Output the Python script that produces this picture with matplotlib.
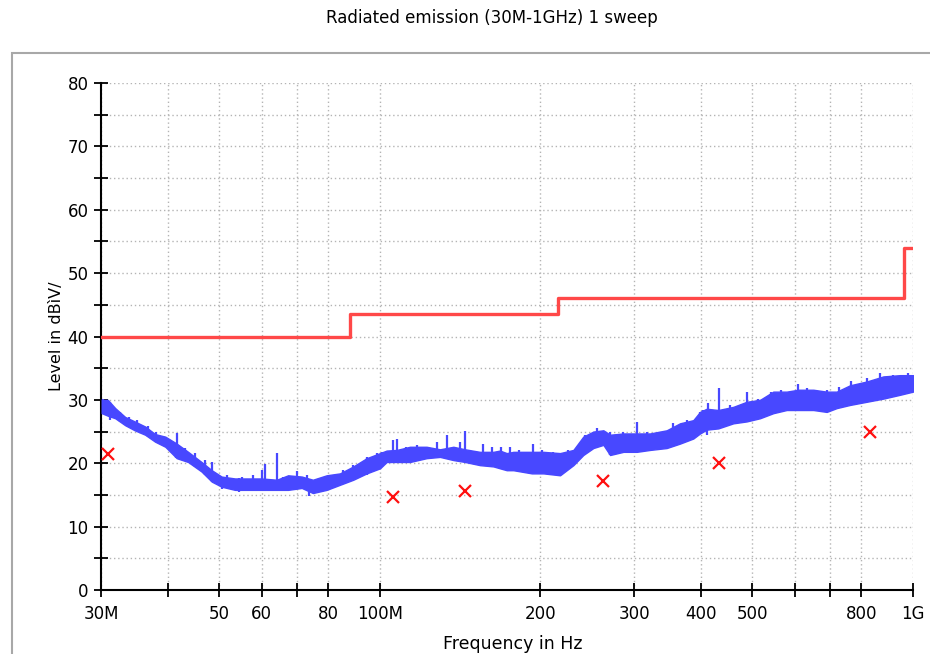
import numpy as np
import matplotlib
matplotlib.use("Agg")
import matplotlib.pyplot as plt
from matplotlib.patches import Rectangle

# sweep envelope (MHz, dBuV)
freq = [30.1, 30.9, 31.9, 33.3, 34.7, 36.3, 37.9, 39.6, 41.6, 43.7, 46.3, 48.4,
        50.5, 53.5, 56.6, 60.0, 64.1, 67.3, 71.4, 74.9, 79.5, 84.2, 89.2, 94.5,
        100.1, 103.0, 107.6, 113.9, 122.4, 129.7, 137.4, 144.5, 154.1, 163.3,
        168.0, 173.0, 178.0, 192.8, 202.7, 217.8, 230.7, 240.8, 251.5, 262.6,
        270.3, 286.3, 303.3, 321.2, 345.2, 365.6, 387.2, 398.6, 410.3, 431.4,
        460.3, 487.7, 516.5, 547.0, 579.5, 609.3, 650.3, 688.9, 719.3, 761.8,
        818.9, 879.8, 945.4, 1000.0]
upper = [30.0, 30.0, 28.7, 27.3, 26.6, 25.8, 24.6, 24.2, 23.1, 21.8, 20.2, 18.9,
         17.9, 17.6, 17.6, 17.6, 17.4, 18.1, 17.9, 17.4, 18.1, 18.4, 19.5, 20.8,
         21.6, 22.0, 22.1, 22.6, 22.6, 22.2, 22.6, 22.2, 21.8, 21.8,
         22.0, 21.6, 21.8, 21.8, 21.8, 21.6, 22.1, 24.2, 25.0, 25.2,
         24.5, 24.7, 24.7, 24.7, 25.2, 26.3, 26.8, 28.1, 28.6, 28.4,
         28.9, 29.7, 30.0, 31.3, 31.3, 31.6, 31.6, 31.3, 31.3, 32.3,
         32.9, 33.7, 33.9, 33.9]
lower = [27.9, 27.5, 27.1, 26.0, 25.2, 24.5, 23.4, 22.6, 20.8, 20.2, 18.7, 17.1,
         16.3, 15.8, 15.8, 15.8, 15.8, 15.8, 16.1, 15.3, 15.8, 16.6, 17.4, 18.4,
         19.2, 20.2, 20.2, 20.2, 20.8, 21.0, 20.5, 20.2, 19.7, 19.5,
         19.2, 18.9, 18.9, 18.4, 18.4, 18.1, 19.7, 21.3, 22.4, 22.9,
         21.3, 21.8, 21.8, 22.1, 22.4, 23.1, 23.9, 24.7, 25.3, 25.5,
         26.3, 26.6, 27.1, 27.9, 28.4, 28.4, 28.4, 28.1, 28.7, 29.2,
         29.7, 30.2, 30.8, 31.3]

# peaks rising above the band
spike_freq = [30.3, 31.6, 32.6, 33.8, 35.0, 36.8, 38.1, 39.3, 41.6, 43.1, 45.0,
              47.0, 48.4, 51.6, 55.1, 57.9, 60.0, 60.9, 64.1, 68.4, 69.8,
              72.9, 81.8, 85.4, 89.2, 94.5, 98.6, 100.8, 105.9, 107.8, 112.2,
              117.2, 128.0, 133.6, 141.2, 144.5, 156.4, 162.2, 169.1,
              175.2, 182.7, 193.5, 201.4, 211.5, 225.6, 242.5, 255.1, 270.3,
              286.3, 303.3, 316.6, 335.5, 355.1, 376.5, 398.6,
              404.4, 413.2, 432.4, 453.8, 487.7, 512.8, 542.1, 565.4, 609.3,
              631.6, 688.9, 727.8, 764.9, 818.9, 867.9, 918.9, 979.4]
spike_level = [30.1, 28.9, 28.1, 27.3, 26.8, 25.8, 25.0, 24.2, 24.7, 22.4, 21.6,
               20.5, 20.2, 18.1, 17.8, 18.1, 18.9, 19.9, 21.6, 18.0, 18.7,
               18.1, 18.1, 18.9, 19.7, 21.0, 21.6, 21.8, 23.7, 23.9, 22.6,
               22.9, 23.4, 24.5, 23.4, 25.1, 23.1, 22.6, 22.6,
               22.6, 22.1, 23.1, 22.1, 21.8, 22.1, 24.5, 25.5, 25.0,
               25.0, 26.5, 25.0, 25.0, 26.3, 26.8, 28.1,
               28.4, 29.5, 31.8, 29.2, 31.3, 30.2, 31.3, 31.6, 32.5,
               31.8, 31.6, 32.1, 32.9, 33.4, 34.2, 33.9, 34.3]

# dips below the band
dip_freq = [31.2, 41.4, 50.5, 54.4, 65.7, 73.8, 94.5, 149.9, 216.0, 270.0, 410.0]
dip_level = [26.8, 20.8, 16.0, 15.5, 15.8, 14.8, 18.1, 20.0, 18.0, 21.3, 24.5]

# limit line
limit_freq = [30, 88, 216, 960, 1000]
limit_level = [40, 43.5, 46, 54, 54]

# final measurement points
meas_freq = [30.9, 105.9, 144.5, 262.0, 433.0, 831.0]
meas_level = [21.5, 14.7, 15.6, 17.2, 20.0, 24.9]

xticks = [30, 40, 50, 60, 70, 80, 100, 200, 300, 400, 500, 600, 700, 800, 1000]
xticklabels = ['30M', '', '50', '60', '', '80', '100M', '200', '300', '400',
               '500', '', '', '800', '1G']

blue = '#4848ff'

fig = plt.figure(figsize=(9.3, 6.54), dpi=100)
ax = fig.add_axes([101 / 930, 1 - 590 / 654, 812 / 930, 507 / 654])

fig.add_artist(Rectangle((12 / 930, -0.1), 1.0, 1 - 53 / 654 + 0.1,
                         transform=fig.transFigure, fill=False,
                         edgecolor='#a8a8a8', lw=1.5, zorder=0))

fig.text(492 / 930, 1 - 18 / 654, 'Radiated emission (30M-1GHz) 1 sweep',
         ha='center', va='center', fontsize=12)

ax.set_xscale('log')
ax.set_xlim(30, 1000)
ax.set_ylim(0, 80)

ax.fill_between(freq, lower, upper, color=blue, lw=1.0, zorder=3)
lf = np.log(freq)
ax.vlines(spike_freq, np.interp(np.log(spike_freq), lf, lower),
          spike_level, color=blue, lw=1.6, zorder=3)
ax.vlines(dip_freq, dip_level, np.interp(np.log(dip_freq), lf, upper),
          color=blue, lw=1.6, zorder=3)

ax.step(limit_freq, limit_level, where='post', color='#ff4848', lw=2.4, zorder=4)
ax.plot(meas_freq, meas_level, 'x', color='#ff1010', ms=9, mew=1.6, zorder=5)

ax.set_xticks(xticks)
ax.set_xticklabels(xticklabels)
ax.xaxis.set_minor_locator(matplotlib.ticker.NullLocator())
ax.set_yticks(range(0, 81, 10))
ax.set_yticks(range(5, 80, 10), minor=True)

for lab in ax.get_xticklabels() + ax.get_yticklabels():
    lab.set_fontsize(12)

ax.tick_params(which='both', direction='inout', length=10, width=1.3,
               color='black', pad=4)
ax.tick_params(axis='x', pad=6)

ax.grid(True, which='both', linestyle=(0, (1, 2)), color='#b4b4b4', lw=1.0)
ax.set_axisbelow(True)
for side in ('top', 'right'):
    ax.spines[side].set_visible(False)
for side in ('left', 'bottom'):
    ax.spines[side].set_linewidth(1.5)

ax.set_xlabel('Frequency in Hz', fontsize=12.5)
ax.xaxis.set_label_coords(0.507, -0.088)
ax.set_ylabel('Level in dBìV/', fontsize=11.5)
ax.yaxis.set_label_coords(-0.046, 0.5)

fig.savefig('out.png', dpi=100)
